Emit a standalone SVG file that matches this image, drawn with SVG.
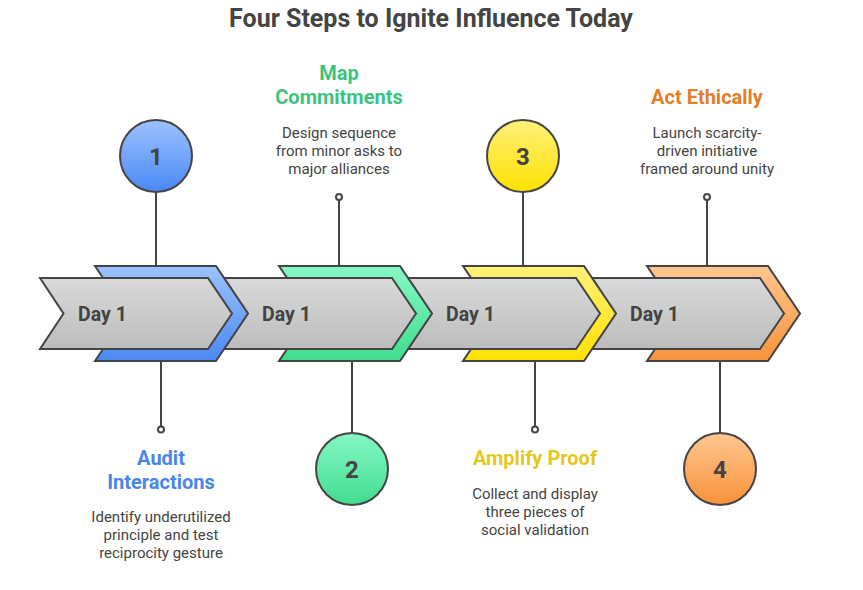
<svg xmlns="http://www.w3.org/2000/svg" width="863" height="590" viewBox="0 0 863 590">
<defs>
<linearGradient id="gGray" x1="0" y1="0" x2="0" y2="1"><stop offset="0" stop-color="#d9d9d9"/><stop offset="1" stop-color="#bcbcbc"/></linearGradient>
<linearGradient id="gBlue" x1="0" y1="0" x2="0" y2="1"><stop offset="0" stop-color="#9cc2ff"/><stop offset="1" stop-color="#4a88f2"/></linearGradient>
<linearGradient id="gGreen" x1="0" y1="0" x2="0" y2="1"><stop offset="0" stop-color="#86f7c4"/><stop offset="1" stop-color="#40dc8e"/></linearGradient>
<linearGradient id="gYellow" x1="0" y1="0" x2="0" y2="1"><stop offset="0" stop-color="#fff07a"/><stop offset="1" stop-color="#ffe200"/></linearGradient>
<linearGradient id="gOrange" x1="0" y1="0" x2="0" y2="1"><stop offset="0" stop-color="#ffc690"/><stop offset="1" stop-color="#f8923a"/></linearGradient>
<path id="gray" d="M0,0 H168 L192,35.5 L168,71 H0 L23.5,35.5 Z"/>
<path id="col" d="M0,0 H121 L153,47.5 L121,95 H0 L32,47.5 Z"/>
</defs>
<style>
.sk{stroke:#444;stroke-width:2;stroke-linejoin:miter}
.ln{stroke:#444;stroke-width:2;fill:none}
.dot{stroke:#444;stroke-width:2;fill:#fff}
.t{font-family:Roboto,"Liberation Sans",sans-serif;text-anchor:middle}
.title{font-size:25px;font-weight:bold;fill:#444}
.day{font-family:Roboto,"Liberation Sans",sans-serif;font-size:19.5px;font-weight:bold;fill:#444}
.num{font-size:24px;font-weight:bold;fill:#444}
.hd{font-size:20px;font-weight:bold}
.desc{font-size:15px;fill:#444}
</style>
<text class="t title" x="431" y="27">Four Steps to Ignite Influence Today</text>
<g id="connectors">
<line class="ln" x1="156" y1="192" x2="156" y2="266"/>
<line class="ln" x1="161" y1="361" x2="161" y2="426"/>
<circle class="dot" cx="161" cy="429.5" r="3"/>
<line class="ln" x1="339" y1="200" x2="339" y2="266"/>
<circle class="dot" cx="339" cy="197" r="3"/>
<line class="ln" x1="352" y1="361" x2="352" y2="433"/>
<line class="ln" x1="523" y1="192" x2="523" y2="266"/>
<line class="ln" x1="535" y1="361" x2="535" y2="426"/>
<circle class="dot" cx="535" cy="429.5" r="3"/>
<line class="ln" x1="707" y1="200" x2="707" y2="266"/>
<circle class="dot" cx="707" cy="197" r="3"/>
<line class="ln" x1="720" y1="361" x2="720" y2="433"/>
</g>
<g id="step4">
<use href="#col" x="647" y="266" fill="url(#gOrange)" class="sk"/>
<use href="#gray" x="592" y="278" fill="url(#gGray)" class="sk"/>
<text class="day" x="630" y="321">Day 1</text>
<circle cx="720" cy="469" r="36" fill="url(#gOrange)" class="sk"/>
<text class="t num" x="720" y="478">4</text>
<text class="t hd" x="707" y="104" fill="#e27e2c">Act Ethically</text>
<text class="t desc" x="707" y="138">Launch scarcity-</text>
<text class="t desc" x="707" y="156">driven initiative</text>
<text class="t desc" x="707" y="174">framed around unity</text>
</g>
<g id="step3">
<use href="#col" x="463" y="266" fill="url(#gYellow)" class="sk"/>
<use href="#gray" x="408" y="278" fill="url(#gGray)" class="sk"/>
<text class="day" x="446" y="321">Day 1</text>
<circle cx="523" cy="156" r="36" fill="url(#gYellow)" class="sk"/>
<text class="t num" x="523" y="165">3</text>
<text class="t hd" x="535" y="465" fill="#e3c81a">Amplify Proof</text>
<text class="t desc" x="535" y="499">Collect and display</text>
<text class="t desc" x="535" y="517">three pieces of</text>
<text class="t desc" x="535" y="535">social validation</text>
</g>
<g id="step2">
<use href="#col" x="279" y="266" fill="url(#gGreen)" class="sk"/>
<use href="#gray" x="224" y="278" fill="url(#gGray)" class="sk"/>
<text class="day" x="262" y="321">Day 1</text>
<circle cx="352" cy="469" r="36" fill="url(#gGreen)" class="sk"/>
<text class="t num" x="352" y="478">2</text>
<text class="t hd" x="339" y="80" fill="#3cc47f">Map</text>
<text class="t hd" x="339" y="104" fill="#3cc47f">Commitments</text>
<text class="t desc" x="339" y="138">Design sequence</text>
<text class="t desc" x="339" y="156">from minor asks to</text>
<text class="t desc" x="339" y="174">major alliances</text>
</g>
<g id="step1">
<use href="#col" x="95" y="266" fill="url(#gBlue)" class="sk"/>
<use href="#gray" x="40" y="278" fill="url(#gGray)" class="sk"/>
<text class="day" x="78" y="321">Day 1</text>
<circle cx="156" cy="156" r="36" fill="url(#gBlue)" class="sk"/>
<text class="t num" x="156" y="165">1</text>
<text class="t hd" x="161" y="465" fill="#4a86e8">Audit</text>
<text class="t hd" x="161" y="489" fill="#4a86e8">Interactions</text>
<text class="t desc" x="161" y="522">Identify underutilized</text>
<text class="t desc" x="161" y="540">principle and test</text>
<text class="t desc" x="161" y="558">reciprocity gesture</text>
</g>
</svg>
